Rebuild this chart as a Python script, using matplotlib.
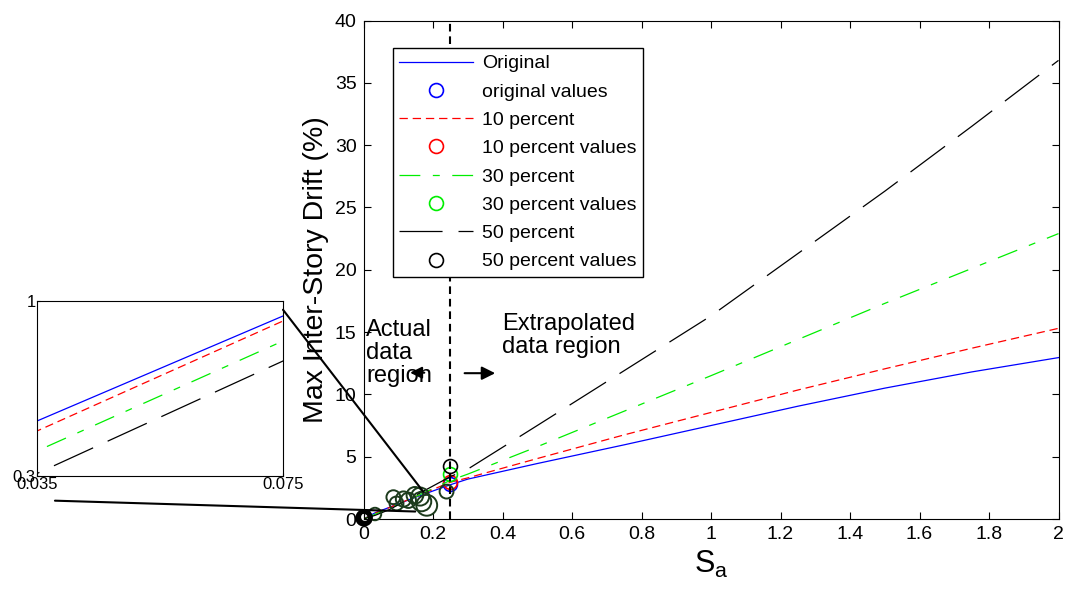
import numpy as np
import matplotlib
matplotlib.use('Agg')
import matplotlib.pyplot as plt
from matplotlib.patches import ConnectionPatch

plt.rcParams['font.family'] = ['Liberation Sans', 'DejaVu Sans']
plt.rcParams['lines.scale_dashes'] = False

# fitted curves (S_a vs drift)
sa = [0.0, 0.035, 0.075, 0.15, 0.25, 0.3, 0.5, 0.75, 1.0, 1.25, 1.5, 1.75, 2.0]
original = [0.0, 0.52, 0.94, 1.75, 2.75, 3.2, 4.45, 5.95, 7.5, 9.05, 10.5, 11.8, 12.95]
pct10 = [0.0, 0.48, 0.92, 1.8, 2.95, 3.3, 4.85, 6.75, 8.55, 10.35, 12.05, 13.7, 15.3]
pct30 = [0.0, 0.40, 0.84, 1.8, 3.1, 3.6, 5.8, 8.65, 11.5, 14.4, 17.3, 20.1, 22.9]
pct50 = [0.0, 0.31, 0.76, 1.9, 3.4, 4.0, 7.5, 11.9, 16.3, 21.3, 26.3, 31.5, 36.8]

# values at the edge of the data (S_a = 0.25)
val_x = [0.25, 0.25, 0.25, 0.25]
val_y = [2.8, 3.0, 3.59, 4.28]

# actual data points
act_x = [0.0, 0.002, 0.004, 0.033, 0.086, 0.095, 0.115, 0.129, 0.148, 0.163, 0.167, 0.182, 0.239]
act_y = [0.05, 0.1, 0.15, 0.4, 1.75, 1.25, 1.6, 1.5, 1.9, 1.8, 1.4, 1.1, 2.2]
act_d = [9, 10, 8, 9, 10, 10, 11, 11, 12, 13, 14, 15, 10]

styles = [
    ('Original', 'original values', original, 'b', '-'),
    ('10 percent', '10 percent values', pct10, 'r', (0, (6, 3.5))),
    ('30 percent', '30 percent values', pct30, '#00ee00', (0, (15, 9, 5, 9))),
    ('50 percent', '50 percent values', pct50, 'k', (0, (31, 11.5))),
]

fig = plt.figure(figsize=(10.65, 5.89), dpi=100)
ax = fig.add_axes([363.5 / 1065, 70 / 589, 695 / 1065, 498.5 / 589])

ax.scatter(act_x, act_y, s=np.array(act_d) ** 2, facecolors='none',
           edgecolors='#1c3a1c', linewidths=1.4, zorder=3, clip_on=False)
ax.scatter(act_x[:3], act_y[:3], s=np.array(act_d[:3]) ** 2, facecolors='none',
           edgecolors='k', linewidths=2.5, zorder=3, clip_on=False)

for i, (lab, vlab, ys, c, ls) in enumerate(styles):
    ax.plot(sa, ys, color=c, linestyle=ls, linewidth=0.9, label=lab)
    ax.plot(val_x[i], val_y[i], 'o', mfc='none', mec=c, ms=10, mew=1.2, label=vlab)

ax.axvline(0.25, color='k', linestyle=(0, (5.5, 3.5)), linewidth=1.5)

ax.set_xlim(0, 2)
ax.set_ylim(0, 40)
ax.set_xticks(np.arange(0, 2.01, 0.2))
ax.set_xticklabels(['0', '0.2', '0.4', '0.6', '0.8', '1', '1.2', '1.4', '1.6', '1.8', '2'])
ax.set_yticks(range(0, 41, 5))
ax.tick_params(direction='in', length=5, top=True, right=True, labelsize=14, pad=5)
ax.set_xlabel('S$_\\mathregular{a}$', fontsize=22, labelpad=4)
ax.set_ylabel('Max Inter-Story Drift (%)', fontsize=20.5, labelpad=4)

# legend with markers shown alone
handles, labels = ax.get_legend_handles_labels()
leg = ax.legend(handles, labels, loc='upper left', bbox_to_anchor=(0.042, 0.945),
                borderaxespad=0, fontsize=14, handlelength=3.8, labelspacing=0.55,
                fancybox=False, edgecolor='k', framealpha=1, handletextpad=0.45,
                borderpad=0.35)
leg.get_frame().set_linewidth(1)

ax.text(0.007, 16.05, 'Actual\ndata\nregion', fontsize=17, va='top', ha='left', linespacing=1.05)
ax.text(0.398, 16.5, 'Extrapolated\ndata region', fontsize=17, va='top', ha='left', linespacing=1.05)
ax.annotate('', xy=(0.126, 11.74), xytext=(0.183, 11.74),
            arrowprops=dict(arrowstyle='-|>,head_length=0.7,head_width=0.35', color='k', lw=1.5))
ax.annotate('', xy=(0.387, 11.7), xytext=(0.283, 11.7),
            arrowprops=dict(arrowstyle='-|>,head_length=0.8,head_width=0.4', color='k', lw=1.5))

# zoomed inset
ins = fig.add_axes([37 / 1065, 113 / 589, 246 / 1065, 175 / 589])
for lab, vlab, ys, c, ls in styles:
    ins.plot(sa, ys, color=c, linestyle=ls, linewidth=0.9)
ins.set_xlim(0.035, 0.075)
ins.set_ylim(0.3, 1)
ins.set_xticks([0.035, 0.075])
ins.set_xticklabels(['0.035', '0.075'])
ins.set_yticks([0.3, 1])
ins.set_yticklabels(['0.3', '1'])
ins.tick_params(direction='in', length=2, labelsize=12, pad=1)

for xyA, xyB in [((1, 0.95), (0.172, 2.19)), ((0.073, -0.141), (0.149, 0.6))]:
    con = ConnectionPatch(xyA=xyA, coordsA=ins.transAxes, xyB=xyB, coordsB=ax.transData,
                          color='k', linewidth=1.5)
    fig.add_artist(con)

plt.savefig('out.png', dpi=100)
